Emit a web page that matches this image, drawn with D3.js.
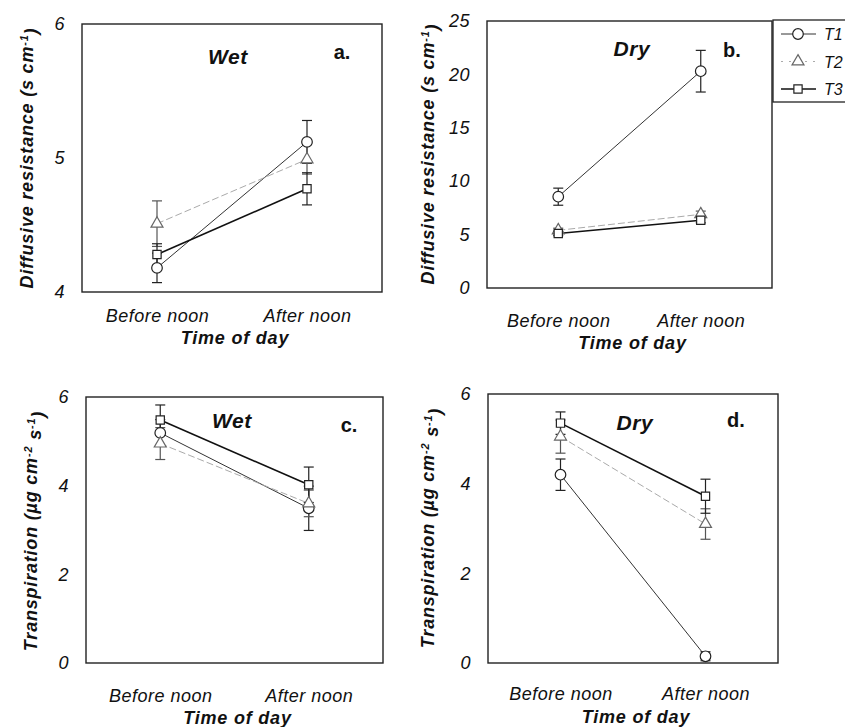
<!DOCTYPE html>
<html>
<head>
<meta charset="utf-8">
<script src="https://cdn.jsdelivr.net/npm/d3@7"></script>
<style>
  body { margin: 0; background: #fff; }
  svg text { font-family: "Liberation Sans", Arial, sans-serif; fill: #111; }
  .tick text { font-style: italic; font-size: 18px; letter-spacing: 0.5px; }
  .axisTitle { font-style: italic; font-weight: bold; font-size: 18px; letter-spacing: 0.8px; }
  .panelTitle { font-style: italic; font-weight: bold; font-size: 21px; letter-spacing: 0.6px; }
  .panelTag { font-weight: bold; font-size: 20px; }
  .legendText { font-style: italic; font-size: 16px; }
</style>
</head>
<body>
<div id="chart"></div>
<script>
// Data
//================================
var times = ["Before noon", "After noon"];
var treatments = ["T1", "T2", "T3"];

// rows = T1, T2, T3 ; columns = before noon, after noon
var resWetMean = [[4.18, 5.12], [4.51, 4.99], [4.28, 4.77]];
var resWetErr  = [[0.11, 0.16], [0.17, 0.11], [0.08, 0.12]];

var resDryMean = [[8.55, 20.3], [5.4, 6.9], [5.1, 6.35]];
var resDryErr  = [[0.8, 1.95], [0.2, 0.3], [0.2, 0.25]];

var trWetMean = [[5.19, 3.49], [4.95, 3.6], [5.48, 4.02]];
var trWetErr  = [[0.3, 0.5], [0.36, 0.3], [0.34, 0.4]];

var trDryMean = [[4.2, 0.15], [5.05, 3.1], [5.35, 3.72]];
var trDryErr  = [[0.35, 0.1], [0.37, 0.34], [0.25, 0.38]];

var resWetTicks = [4, 5, 6];
var resDryTicks = [0, 5, 10, 15, 20, 25];
var trTicks = [0, 2, 4, 6];

// Set up the chart area
//================================
var svgWidth = 845;
var svgHeight = 727;

var svg = d3.select("#chart")
  .append("svg")
  .attr("width", svgWidth)
  .attr("height", svgHeight);

// line style per treatment
var lineStyle = [
  { stroke: "#333", width: 1, dash: null, symbol: "circle" },
  { stroke: "#aaa", width: 1, dash: "7 3", symbol: "triangle" },
  { stroke: "#111", width: 1.6, dash: null, symbol: "square" }
];

var panels = [
  { left: 82, right: 382, top: 24, bottom: 292, mean: resWetMean, err: resWetErr, ticks: resWetTicks,
    domain: [4, 6], title: "Wet", tag: "a.", titleX: 228, titleY: 64, tagX: 342, tagY: 59,
    xPad: 17, timeY: 344, ytX: 27, ytY: 158, ytype: "res" },
  { left: 487, right: 772, top: 21, bottom: 288, mean: resDryMean, err: resDryErr, ticks: resDryTicks,
    domain: [0, 25], title: "Dry", tag: "b.", titleX: 632, titleY: 56, tagX: 732, tagY: 57,
    xPad: 26, timeY: 349, ytX: 428, ytY: 154, ytype: "res" },
  { left: 86, right: 383, top: 397, bottom: 663, mean: trWetMean, err: trWetErr, ticks: trTicks,
    domain: [0, 6], title: "Wet", tag: "c.", titleX: 232, titleY: 428, tagX: 349, tagY: 432,
    xPad: 26, timeY: 724, ytX: 31, ytY: 531, ytype: "tr" },
  { left: 488, right: 778, top: 394, bottom: 663, mean: trDryMean, err: trDryErr, ticks: trTicks,
    domain: [0, 6], title: "Dry", tag: "d.", titleX: 635, titleY: 430, tagX: 736, tagY: 427,
    xPad: 24, timeY: 723, ytX: 428, ytY: 528, ytype: "tr" }
];

function drawMarker(g, type, x, y) {
  if (type === "circle") {
    g.append("circle").attr("cx", x).attr("cy", y).attr("r", 5.3)
      .attr("fill", "#fff").attr("stroke", "#222").attr("stroke-width", 1.2);
  } else {
    var sym = type === "triangle" ? d3.symbolTriangle : d3.symbolSquare;
    var size = type === "triangle" ? 62 : 68;
    g.append("path")
      .attr("d", d3.symbol().type(sym).size(size)())
      .attr("transform", `translate(${x},${y})`)
      .attr("fill", "#fff")
      .attr("stroke", type === "triangle" ? "#666" : "#222")
      .attr("stroke-width", 1.2);
  }
}

panels.forEach(function(p) {
  var g = svg.append("g");

  var x = d3.scalePoint().domain(times).range([p.left, p.right]).padding(0.5);
  var y = d3.scaleLinear().domain(p.domain).range([p.bottom, p.top]);

  // axes (labels only, no tick marks)
  var yAxis = g.append("g")
    .attr("transform", `translate(${p.left},0)`)
    .call(d3.axisLeft(y).tickValues(p.ticks).tickFormat(d3.format("d")).tickSize(0).tickPadding(17));
  yAxis.select(".domain").remove();

  var xAxis = g.append("g")
    .attr("transform", `translate(0,${p.bottom})`)
    .call(d3.axisBottom(x).tickSize(0).tickPadding(p.xPad));
  xAxis.select(".domain").remove();

  // frame
  g.append("rect")
    .attr("x", p.left).attr("y", p.top)
    .attr("width", p.right - p.left).attr("height", p.bottom - p.top)
    .attr("fill", "none").attr("stroke", "#222").attr("stroke-width", 1.4);

  // lines
  var line = d3.line().x((d, i) => x(times[i])).y(d => y(d));
  p.mean.forEach(function(vals, k) {
    var s = lineStyle[k];
    g.append("path")
      .datum(vals)
      .attr("d", line)
      .attr("fill", "none")
      .attr("stroke", s.stroke)
      .attr("stroke-width", s.width)
      .attr("stroke-dasharray", s.dash);
  });

  // error bars
  p.mean.forEach(function(vals, k) {
    vals.forEach(function(v, i) {
      var cx = x(times[i]);
      var e = p.err[k][i];
      var y0 = y(Math.max(p.domain[0], v - e));
      var y1 = y(v + e);
      var col = k === 1 ? "#555" : "#222";
      g.append("line").attr("x1", cx).attr("x2", cx).attr("y1", y0).attr("y2", y1)
        .attr("stroke", col).attr("stroke-width", 1.2);
      [y0, y1].forEach(function(yy) {
        g.append("line").attr("x1", cx - 5).attr("x2", cx + 5).attr("y1", yy).attr("y2", yy)
          .attr("stroke", col).attr("stroke-width", 1.2);
      });
    });
  });

  // markers
  p.mean.forEach(function(vals, k) {
    vals.forEach(function(v, i) {
      drawMarker(g, lineStyle[k].symbol, x(times[i]), y(v));
    });
  });

  // panel texts
  g.append("text").attr("class", "panelTitle")
    .attr("x", p.titleX).attr("y", p.titleY).attr("text-anchor", "middle").text(p.title);
  g.append("text").attr("class", "panelTag")
    .attr("x", p.tagX).attr("y", p.tagY).attr("text-anchor", "middle").text(p.tag);

  g.append("text").attr("class", "axisTitle")
    .attr("x", (p.left + p.right) / 2 + 3).attr("y", p.timeY)
    .attr("text-anchor", "middle").text("Time of day");

  var yt = g.append("text").attr("class", "axisTitle")
    .attr("transform", `translate(${p.ytX + 6},${p.ytY}) rotate(-90)`)
    .attr("text-anchor", "middle");
  if (p.ytype === "res") {
    yt.append("tspan").text("Diffusive resistance (s cm");
    yt.append("tspan").attr("dy", "-0.5em").style("font-size", "11px").text("-1");
    yt.append("tspan").attr("dy", "0.5em").text(")");
  } else {
    yt.append("tspan").text("Transpiration (\u00b5g cm");
    yt.append("tspan").attr("dy", "-0.5em").style("font-size", "11px").text("-2");
    yt.append("tspan").attr("dy", "0.5em").text(" s");
    yt.append("tspan").attr("dy", "-0.5em").style("font-size", "11px").text("-1");
    yt.append("tspan").attr("dy", "0.5em").text(")");
  }
});

// Legend
//================================
var legend = svg.append("g");
legend.append("rect")
  .attr("x", 773).attr("y", 20).attr("width", 100).attr("height", 82)
  .attr("fill", "#fff").attr("stroke", "#222").attr("stroke-width", 1.3);

var legendY = d3.scalePoint().domain(treatments).range([34, 89]);
treatments.forEach(function(t, k) {
  var s = lineStyle[k];
  var ly = legendY(t);
  legend.append("line")
    .attr("x1", 781).attr("x2", 816).attr("y1", ly).attr("y2", ly)
    .attr("stroke", s.stroke).attr("stroke-width", s.width)
    .attr("stroke-dasharray", k === 1 ? "2 6" : null);
  drawMarker(legend, s.symbol, 798, ly);
  legend.append("text").attr("class", "legendText")
    .attr("x", 824).attr("y", ly + 6).text(t);
});
</script>
</body>
</html>
